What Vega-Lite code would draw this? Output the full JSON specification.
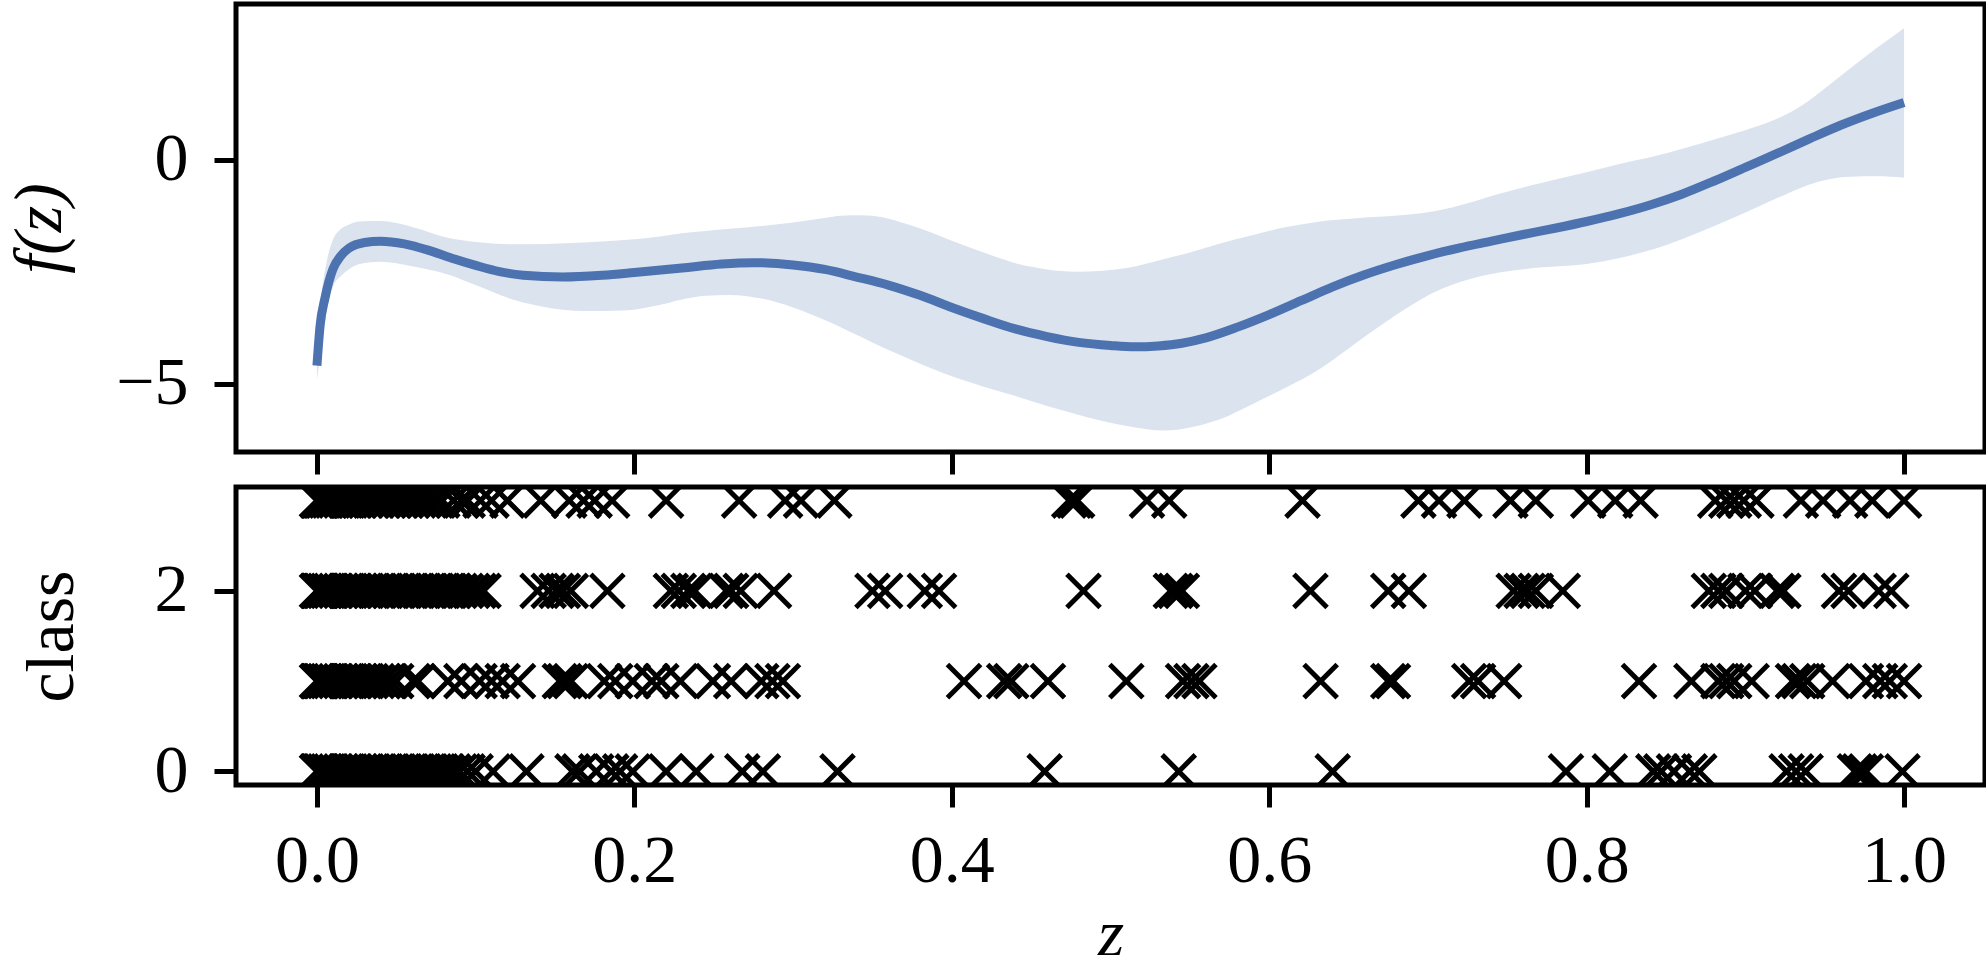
{
  "$schema": "https://vega.github.io/schema/vega-lite/v6.json",
  "padding": {"left": 3, "top": 1, "right": 0, "bottom": 0},
  "background": "white",
  "config": {
    "font": "Liberation Serif",
    "view": {"stroke": "black", "strokeWidth": 5},
    "axis": {
      "grid": false, "domain": false,
      "tickColor": "black", "tickWidth": 5, "tickSize": 22, "tickCap": "butt",
      "labelFont": "Liberation Serif", "labelFontSize": 68, "labelColor": "black",
      "titleFont": "Liberation Serif", "titleFontSize": 68, "titleColor": "black", "titleFontWeight": "normal",
      "labelFlush": false
    },
    "axisX": {"labelPadding": 20, "titlePadding": 6},
    "axisY": {"labelPadding": 26, "titleBaseline": "alphabetic"}
  },
  "datasets": {
    "curve": [
      {"z": 0.0, "mean": -4.6}, {"z": 0.002, "mean": -3.7}, {"z": 0.005, "mean": -3.1}, {"z": 0.01, "mean": -2.45},
      {"z": 0.015, "mean": -2.15}, {"z": 0.02, "mean": -1.98}, {"z": 0.03, "mean": -1.85}, {"z": 0.04, "mean": -1.82},
      {"z": 0.055, "mean": -1.88}, {"z": 0.07, "mean": -2.02}, {"z": 0.085, "mean": -2.2}, {"z": 0.1, "mean": -2.36},
      {"z": 0.115, "mean": -2.5}, {"z": 0.13, "mean": -2.58}, {"z": 0.155, "mean": -2.62}, {"z": 0.18, "mean": -2.58},
      {"z": 0.2, "mean": -2.52}, {"z": 0.23, "mean": -2.42}, {"z": 0.255, "mean": -2.33}, {"z": 0.275, "mean": -2.3},
      {"z": 0.3, "mean": -2.35}, {"z": 0.32, "mean": -2.45}, {"z": 0.34, "mean": -2.62}, {"z": 0.36, "mean": -2.8},
      {"z": 0.38, "mean": -3.03}, {"z": 0.4, "mean": -3.3}, {"z": 0.42, "mean": -3.55}, {"z": 0.44, "mean": -3.78},
      {"z": 0.46, "mean": -3.95}, {"z": 0.48, "mean": -4.08}, {"z": 0.5, "mean": -4.15}, {"z": 0.515, "mean": -4.18},
      {"z": 0.53, "mean": -4.16}, {"z": 0.545, "mean": -4.1}, {"z": 0.56, "mean": -3.98}, {"z": 0.58, "mean": -3.74},
      {"z": 0.6, "mean": -3.46}, {"z": 0.62, "mean": -3.15}, {"z": 0.64, "mean": -2.84}, {"z": 0.66, "mean": -2.57},
      {"z": 0.68, "mean": -2.34}, {"z": 0.7, "mean": -2.14}, {"z": 0.72, "mean": -1.97}, {"z": 0.74, "mean": -1.82},
      {"z": 0.76, "mean": -1.67}, {"z": 0.78, "mean": -1.53}, {"z": 0.8, "mean": -1.38}, {"z": 0.82, "mean": -1.21},
      {"z": 0.84, "mean": -1.01}, {"z": 0.86, "mean": -0.77}, {"z": 0.88, "mean": -0.48}, {"z": 0.9, "mean": -0.17},
      {"z": 0.92, "mean": 0.14}, {"z": 0.94, "mean": 0.46}, {"z": 0.96, "mean": 0.77}, {"z": 0.98, "mean": 1.04},
      {"z": 1.0, "mean": 1.28}
    ],
    "band": [
      {"z": 0.0, "lo": -4.9, "hi": -4.3}, {"z": 0.003, "lo": -4.2, "hi": -3.0}, {"z": 0.006, "lo": -3.4, "hi": -2.3},
      {"z": 0.01, "lo": -2.85, "hi": -1.8}, {"z": 0.015, "lo": -2.6, "hi": -1.55}, {"z": 0.02, "lo": -2.45, "hi": -1.45},
      {"z": 0.027, "lo": -2.33, "hi": -1.38}, {"z": 0.04, "lo": -2.28, "hi": -1.37}, {"z": 0.06, "lo": -2.38, "hi": -1.5},
      {"z": 0.083, "lo": -2.57, "hi": -1.75}, {"z": 0.1, "lo": -2.8, "hi": -1.84}, {"z": 0.125, "lo": -3.14, "hi": -1.89},
      {"z": 0.145, "lo": -3.3, "hi": -1.88}, {"z": 0.168, "lo": -3.38, "hi": -1.85}, {"z": 0.196, "lo": -3.36, "hi": -1.79},
      {"z": 0.215, "lo": -3.25, "hi": -1.72}, {"z": 0.23, "lo": -3.12, "hi": -1.64}, {"z": 0.245, "lo": -3.04, "hi": -1.59},
      {"z": 0.26, "lo": -3.02, "hi": -1.54}, {"z": 0.28, "lo": -3.1, "hi": -1.48}, {"z": 0.3, "lo": -3.3, "hi": -1.4},
      {"z": 0.32, "lo": -3.58, "hi": -1.3}, {"z": 0.33, "lo": -3.74, "hi": -1.25}, {"z": 0.343, "lo": -3.96, "hi": -1.24},
      {"z": 0.357, "lo": -4.2, "hi": -1.29}, {"z": 0.37, "lo": -4.4, "hi": -1.42}, {"z": 0.385, "lo": -4.63, "hi": -1.6},
      {"z": 0.4, "lo": -4.84, "hi": -1.81}, {"z": 0.42, "lo": -5.07, "hi": -2.07}, {"z": 0.442, "lo": -5.3, "hi": -2.33},
      {"z": 0.46, "lo": -5.5, "hi": -2.45}, {"z": 0.478, "lo": -5.68, "hi": -2.5}, {"z": 0.495, "lo": -5.84, "hi": -2.48},
      {"z": 0.512, "lo": -5.96, "hi": -2.41}, {"z": 0.534, "lo": -6.05, "hi": -2.22}, {"z": 0.55, "lo": -5.98, "hi": -2.07},
      {"z": 0.568, "lo": -5.81, "hi": -1.88}, {"z": 0.59, "lo": -5.45, "hi": -1.68}, {"z": 0.61, "lo": -5.1, "hi": -1.51},
      {"z": 0.621, "lo": -4.9, "hi": -1.44}, {"z": 0.637, "lo": -4.55, "hi": -1.36}, {"z": 0.653, "lo": -4.14, "hi": -1.31},
      {"z": 0.672, "lo": -3.66, "hi": -1.27}, {"z": 0.69, "lo": -3.24, "hi": -1.22}, {"z": 0.704, "lo": -2.96, "hi": -1.15},
      {"z": 0.725, "lo": -2.68, "hi": -0.97}, {"z": 0.745, "lo": -2.52, "hi": -0.76}, {"z": 0.77, "lo": -2.41, "hi": -0.53},
      {"z": 0.8, "lo": -2.33, "hi": -0.28}, {"z": 0.82, "lo": -2.2, "hi": -0.1}, {"z": 0.842, "lo": -2.0, "hi": 0.07},
      {"z": 0.862, "lo": -1.75, "hi": 0.26}, {"z": 0.883, "lo": -1.44, "hi": 0.48}, {"z": 0.905, "lo": -1.1, "hi": 0.72},
      {"z": 0.925, "lo": -0.78, "hi": 1.0}, {"z": 0.94, "lo": -0.56, "hi": 1.32}, {"z": 0.952, "lo": -0.44, "hi": 1.65},
      {"z": 0.966, "lo": -0.38, "hi": 2.04}, {"z": 0.983, "lo": -0.37, "hi": 2.5}, {"z": 1.0, "lo": -0.4, "hi": 2.94}
    ],
    "pts": [
      {"z": 0.0, "c": 3}, {"z": 0.0005, "c": 3}, {"z": 0.001, "c": 3}, {"z": 0.002, "c": 3}, {"z": 0.003, "c": 3}, {"z": 0.004, "c": 3},
      {"z": 0.006, "c": 3}, {"z": 0.008, "c": 3}, {"z": 0.010, "c": 3}, {"z": 0.012, "c": 3}, {"z": 0.015, "c": 3}, {"z": 0.018, "c": 3},
      {"z": 0.021, "c": 3}, {"z": 0.024, "c": 3}, {"z": 0.027, "c": 3}, {"z": 0.031, "c": 3}, {"z": 0.035, "c": 3}, {"z": 0.038, "c": 3},
      {"z": 0.042, "c": 3}, {"z": 0.045, "c": 3}, {"z": 0.049, "c": 3}, {"z": 0.053, "c": 3}, {"z": 0.056, "c": 3}, {"z": 0.060, "c": 3},
      {"z": 0.064, "c": 3}, {"z": 0.067, "c": 3}, {"z": 0.071, "c": 3}, {"z": 0.075, "c": 3}, {"z": 0.079, "c": 3}, {"z": 0.086, "c": 3},
      {"z": 0.091, "c": 3}, {"z": 0.095, "c": 3}, {"z": 0.103, "c": 3}, {"z": 0.110, "c": 3}, {"z": 0.120, "c": 3}, {"z": 0.141, "c": 3},
      {"z": 0.159, "c": 3}, {"z": 0.168, "c": 3}, {"z": 0.175, "c": 3}, {"z": 0.186, "c": 3}, {"z": 0.220, "c": 3}, {"z": 0.266, "c": 3},
      {"z": 0.295, "c": 3}, {"z": 0.305, "c": 3}, {"z": 0.326, "c": 3}, {"z": 0.474, "c": 3}, {"z": 0.477, "c": 3}, {"z": 0.479, "c": 3},
      {"z": 0.523, "c": 3}, {"z": 0.537, "c": 3}, {"z": 0.621, "c": 3}, {"z": 0.694, "c": 3}, {"z": 0.707, "c": 3}, {"z": 0.723, "c": 3},
      {"z": 0.752, "c": 3}, {"z": 0.768, "c": 3}, {"z": 0.801, "c": 3}, {"z": 0.818, "c": 3}, {"z": 0.834, "c": 3}, {"z": 0.881, "c": 3},
      {"z": 0.888, "c": 3}, {"z": 0.893, "c": 3}, {"z": 0.899, "c": 3}, {"z": 0.907, "c": 3}, {"z": 0.935, "c": 3}, {"z": 0.949, "c": 3},
      {"z": 0.966, "c": 3}, {"z": 0.980, "c": 3}, {"z": 1.0, "c": 3},

      {"z": 0.0, "c": 2}, {"z": 0.0005, "c": 2}, {"z": 0.001, "c": 2}, {"z": 0.002, "c": 2}, {"z": 0.003, "c": 2}, {"z": 0.005, "c": 2},
      {"z": 0.007, "c": 2}, {"z": 0.009, "c": 2}, {"z": 0.012, "c": 2}, {"z": 0.015, "c": 2}, {"z": 0.018, "c": 2}, {"z": 0.021, "c": 2},
      {"z": 0.024, "c": 2}, {"z": 0.027, "c": 2}, {"z": 0.030, "c": 2}, {"z": 0.034, "c": 2}, {"z": 0.038, "c": 2}, {"z": 0.042, "c": 2},
      {"z": 0.046, "c": 2}, {"z": 0.050, "c": 2}, {"z": 0.054, "c": 2}, {"z": 0.058, "c": 2}, {"z": 0.062, "c": 2}, {"z": 0.066, "c": 2},
      {"z": 0.070, "c": 2}, {"z": 0.074, "c": 2}, {"z": 0.078, "c": 2}, {"z": 0.082, "c": 2}, {"z": 0.086, "c": 2}, {"z": 0.090, "c": 2},
      {"z": 0.094, "c": 2}, {"z": 0.098, "c": 2}, {"z": 0.102, "c": 2}, {"z": 0.105, "c": 2}, {"z": 0.139, "c": 2}, {"z": 0.146, "c": 2},
      {"z": 0.151, "c": 2}, {"z": 0.155, "c": 2}, {"z": 0.160, "c": 2}, {"z": 0.183, "c": 2}, {"z": 0.223, "c": 2}, {"z": 0.228, "c": 2},
      {"z": 0.234, "c": 2}, {"z": 0.238, "c": 2}, {"z": 0.258, "c": 2}, {"z": 0.261, "c": 2}, {"z": 0.267, "c": 2}, {"z": 0.288, "c": 2},
      {"z": 0.350, "c": 2}, {"z": 0.358, "c": 2}, {"z": 0.383, "c": 2}, {"z": 0.392, "c": 2}, {"z": 0.483, "c": 2}, {"z": 0.538, "c": 2},
      {"z": 0.541, "c": 2}, {"z": 0.545, "c": 2}, {"z": 0.626, "c": 2}, {"z": 0.675, "c": 2}, {"z": 0.688, "c": 2}, {"z": 0.754, "c": 2},
      {"z": 0.759, "c": 2}, {"z": 0.763, "c": 2}, {"z": 0.768, "c": 2}, {"z": 0.785, "c": 2}, {"z": 0.877, "c": 2}, {"z": 0.883, "c": 2},
      {"z": 0.888, "c": 2}, {"z": 0.900, "c": 2}, {"z": 0.906, "c": 2}, {"z": 0.920, "c": 2}, {"z": 0.924, "c": 2}, {"z": 0.959, "c": 2},
      {"z": 0.965, "c": 2}, {"z": 0.984, "c": 2}, {"z": 0.992, "c": 2},

      {"z": 0.0, "c": 1}, {"z": 0.0005, "c": 1}, {"z": 0.001, "c": 1}, {"z": 0.002, "c": 1}, {"z": 0.003, "c": 1}, {"z": 0.005, "c": 1},
      {"z": 0.007, "c": 1}, {"z": 0.009, "c": 1}, {"z": 0.012, "c": 1}, {"z": 0.015, "c": 1}, {"z": 0.018, "c": 1}, {"z": 0.021, "c": 1},
      {"z": 0.024, "c": 1}, {"z": 0.027, "c": 1}, {"z": 0.030, "c": 1}, {"z": 0.034, "c": 1}, {"z": 0.038, "c": 1}, {"z": 0.042, "c": 1},
      {"z": 0.046, "c": 1}, {"z": 0.050, "c": 1}, {"z": 0.0605, "c": 1}, {"z": 0.0636, "c": 1}, {"z": 0.0825, "c": 1}, {"z": 0.091, "c": 1},
      {"z": 0.1025, "c": 1}, {"z": 0.110, "c": 1}, {"z": 0.117, "c": 1}, {"z": 0.1267, "c": 1}, {"z": 0.153, "c": 1}, {"z": 0.156, "c": 1},
      {"z": 0.160, "c": 1}, {"z": 0.181, "c": 1}, {"z": 0.188, "c": 1}, {"z": 0.199, "c": 1}, {"z": 0.211, "c": 1}, {"z": 0.217, "c": 1},
      {"z": 0.229, "c": 1}, {"z": 0.2495, "c": 1}, {"z": 0.261, "c": 1}, {"z": 0.280, "c": 1}, {"z": 0.287, "c": 1}, {"z": 0.2936, "c": 1},
      {"z": 0.4077, "c": 1}, {"z": 0.433, "c": 1}, {"z": 0.4375, "c": 1}, {"z": 0.4606, "c": 1}, {"z": 0.510, "c": 1}, {"z": 0.5457, "c": 1},
      {"z": 0.551, "c": 1}, {"z": 0.556, "c": 1}, {"z": 0.6324, "c": 1}, {"z": 0.675, "c": 1}, {"z": 0.678, "c": 1}, {"z": 0.726, "c": 1},
      {"z": 0.7316, "c": 1}, {"z": 0.748, "c": 1}, {"z": 0.833, "c": 1}, {"z": 0.866, "c": 1}, {"z": 0.883, "c": 1}, {"z": 0.888, "c": 1},
      {"z": 0.893, "c": 1}, {"z": 0.904, "c": 1}, {"z": 0.930, "c": 1}, {"z": 0.934, "c": 1}, {"z": 0.939, "c": 1}, {"z": 0.955, "c": 1},
      {"z": 0.976, "c": 1}, {"z": 0.985, "c": 1}, {"z": 0.991, "c": 1}, {"z": 1.0, "c": 1},

      {"z": 0.0, "c": 0}, {"z": 0.0005, "c": 0}, {"z": 0.001, "c": 0}, {"z": 0.002, "c": 0}, {"z": 0.003, "c": 0}, {"z": 0.005, "c": 0},
      {"z": 0.007, "c": 0}, {"z": 0.009, "c": 0}, {"z": 0.012, "c": 0}, {"z": 0.015, "c": 0}, {"z": 0.018, "c": 0}, {"z": 0.021, "c": 0},
      {"z": 0.024, "c": 0}, {"z": 0.027, "c": 0}, {"z": 0.030, "c": 0}, {"z": 0.034, "c": 0}, {"z": 0.038, "c": 0}, {"z": 0.042, "c": 0},
      {"z": 0.046, "c": 0}, {"z": 0.050, "c": 0}, {"z": 0.054, "c": 0}, {"z": 0.058, "c": 0}, {"z": 0.062, "c": 0}, {"z": 0.066, "c": 0},
      {"z": 0.070, "c": 0}, {"z": 0.074, "c": 0}, {"z": 0.078, "c": 0}, {"z": 0.082, "c": 0}, {"z": 0.086, "c": 0}, {"z": 0.090, "c": 0},
      {"z": 0.095, "c": 0}, {"z": 0.100, "c": 0}, {"z": 0.111, "c": 0}, {"z": 0.132, "c": 0}, {"z": 0.161, "c": 0}, {"z": 0.1655, "c": 0},
      {"z": 0.176, "c": 0}, {"z": 0.1855, "c": 0}, {"z": 0.191, "c": 0}, {"z": 0.199, "c": 0}, {"z": 0.220, "c": 0}, {"z": 0.239, "c": 0},
      {"z": 0.268, "c": 0}, {"z": 0.281, "c": 0}, {"z": 0.328, "c": 0}, {"z": 0.4585, "c": 0}, {"z": 0.543, "c": 0}, {"z": 0.640, "c": 0},
      {"z": 0.787, "c": 0}, {"z": 0.8146, "c": 0}, {"z": 0.842, "c": 0}, {"z": 0.847, "c": 0}, {"z": 0.855, "c": 0}, {"z": 0.865, "c": 0},
      {"z": 0.871, "c": 0}, {"z": 0.926, "c": 0}, {"z": 0.932, "c": 0}, {"z": 0.938, "c": 0}, {"z": 0.969, "c": 0}, {"z": 0.972, "c": 0},
      {"z": 0.976, "c": 0}, {"z": 0.999, "c": 0}
    ]
  },
  "bounds": "flush",
  "spacing": 35,
  "vconcat": [
    {
      "width": 1749,
      "height": 448,
      "layer": [
        {
          "data": {"name": "band"},
          "mark": {"type": "area", "color": "#4c72b0", "opacity": 0.2, "interpolate": "monotone"},
          "encoding": {
            "x": {"field": "z", "type": "quantitative", "scale": {"domain": [-0.051, 1.051], "nice": false, "zero": false},
                  "axis": {"values": [0, 0.2, 0.4, 0.6, 0.8, 1.0], "labels": false, "title": null}},
            "y": {"field": "lo", "type": "quantitative", "scale": {"domain": [-6.53, 3.48], "nice": false, "zero": false},
                  "axis": {"values": [-5, 0], "title": "f(z)", "titleFontStyle": "italic", "titleX": -176}},
            "y2": {"field": "hi"}
          }
        },
        {
          "data": {"name": "curve"},
          "mark": {"type": "line", "color": "#4c72b0", "strokeWidth": 9, "interpolate": "monotone", "strokeCap": "butt"},
          "encoding": {
            "x": {"field": "z", "type": "quantitative"},
            "y": {"field": "mean", "type": "quantitative", "title": "f(z)"}
          }
        }
      ]
    },
    {
      "width": 1749,
      "height": 298,
      "data": {"name": "pts"},
      "mark": {"type": "point", "shape": "M-1,-1L1,1M-1,1L1,-1", "filled": false, "size": 1100, "strokeWidth": 5,
               "color": "black", "opacity": 1, "clip": true, "strokeCap": "butt"},
      "encoding": {
        "x": {"field": "z", "type": "quantitative", "scale": {"domain": [-0.051, 1.051], "nice": false, "zero": false},
              "axis": {"values": [0, 0.2, 0.4, 0.6, 0.8, 1.0], "format": ".1f", "title": "z", "titleFontStyle": "italic"}},
        "y": {"field": "c", "type": "quantitative", "scale": {"domain": [-0.15, 3.15], "nice": false, "zero": false},
              "axis": {"values": [0, 2], "title": "class", "titleX": -164}}
      }
    }
  ]
}
